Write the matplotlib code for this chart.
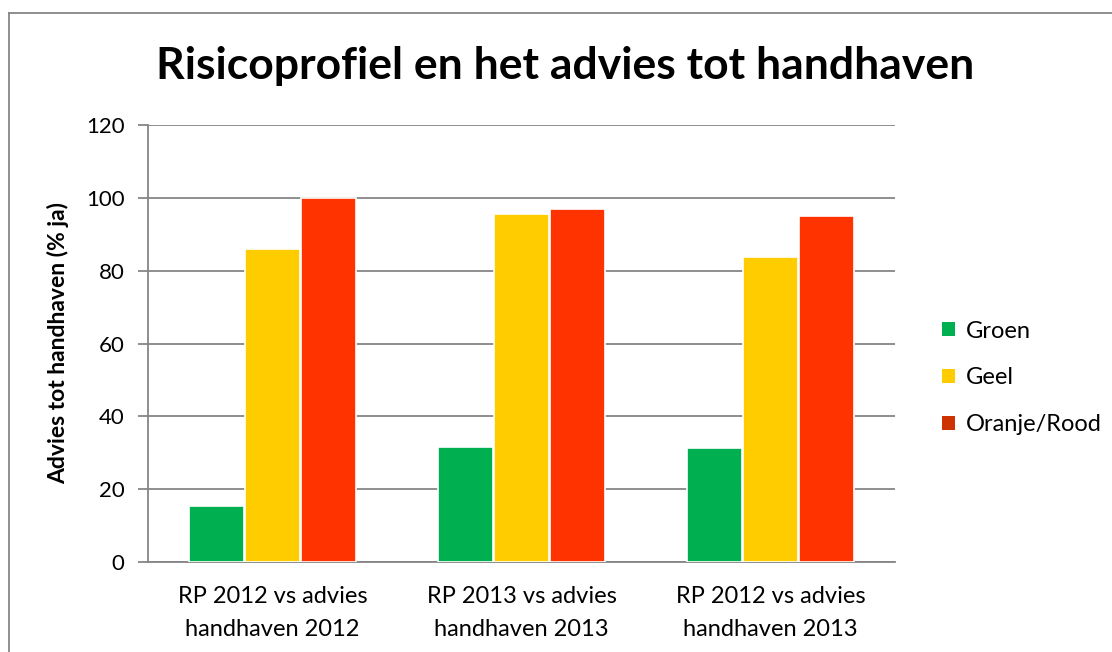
"""Risicoprofiel vs advies tot handhaven - grouped bar chart."""

import matplotlib
matplotlib.use("Agg")
import matplotlib.pyplot as plt
import numpy as np
from matplotlib.lines import Line2D
from matplotlib.patches import Patch

plt.rcParams["font.family"] = ["Lato", "DejaVu Sans"]

categories = [
    "RP 2012 vs advies\nhandhaven 2012",
    "RP 2013 vs advies\nhandhaven 2013",
    "RP 2012 vs advies\nhandhaven 2013",
]
series_names = ["Groen", "Geel", "Oranje/Rood"]
groen = [15.3, 31.7, 31.2]
geel = [86.0, 95.5, 83.8]
rood = [100.0, 96.8, 95.1]
bar_colors = ["#00B050", "#FFCC00", "#FF3300"]
legend_colors = ["#00B050", "#FFCC00", "#CC3300"]
yticks = [0, 20, 40, 60, 80, 100, 120]

fig = plt.figure(figsize=(11.12, 6.52), dpi=100)
ax = fig.add_axes([148 / 1112, 1 - 562 / 652, (895 - 148) / 1112, (562 - 125) / 652])

x = np.arange(len(categories))
width = 0.222
step = 0.226
for i, (vals, col) in enumerate(zip([groen, geel, rood], bar_colors)):
    ax.bar(x + (i - 1) * step, vals, width, color=col, edgecolor="white",
           linewidth=1.2, zorder=3)

ax.set_xlim(-0.5, len(categories) - 0.5)
ax.set_ylim(0, 120)
ax.set_yticks(yticks)
ax.set_xticks(x)
ax.set_xticklabels(categories, fontsize=17)
ax.tick_params(axis="x", length=0, pad=17)
ax.tick_params(axis="y", length=7, width=1.3, color="#868686", labelsize=16, pad=10)
for lbl in ax.get_xticklabels():
    lbl.set_linespacing(1.75)

ax.grid(axis="y", color="#868686", linewidth=1.3, zorder=0)
for side in ["top", "right"]:
    ax.spines[side].set_visible(False)
for side in ["left", "bottom"]:
    ax.spines[side].set_color("#868686")
    ax.spines[side].set_linewidth(1.3)

ax.set_ylabel("Advies tot handhaven (% ja)", fontsize=16.5, fontweight="bold", labelpad=12)

fig.text(565 / 1112, 1 - 66 / 652, "Risicoprofiel en het advies tot handhaven",
         ha="center", va="center", fontsize=32, fontweight="bold")

handles = [Patch(facecolor=c, edgecolor="none") for c in legend_colors]
fig.legend(handles, series_names, loc="center left", bbox_to_anchor=(921 / 1112, 1 - 378 / 652),
           frameon=False, fontsize=17, handlelength=0.55, handleheight=0.55,
           handletextpad=0.45, labelspacing=1.1)

# outer chart border (only top and left visible in the crop)
fig.add_artist(Line2D([9 / 1112, 1], [1 - 13 / 652, 1 - 13 / 652], color="#868686", linewidth=1.3))
fig.add_artist(Line2D([9 / 1112, 9 / 1112], [0, 1 - 13 / 652], color="#868686", linewidth=1.3))

fig.savefig("out.png", dpi=100, facecolor="white")
